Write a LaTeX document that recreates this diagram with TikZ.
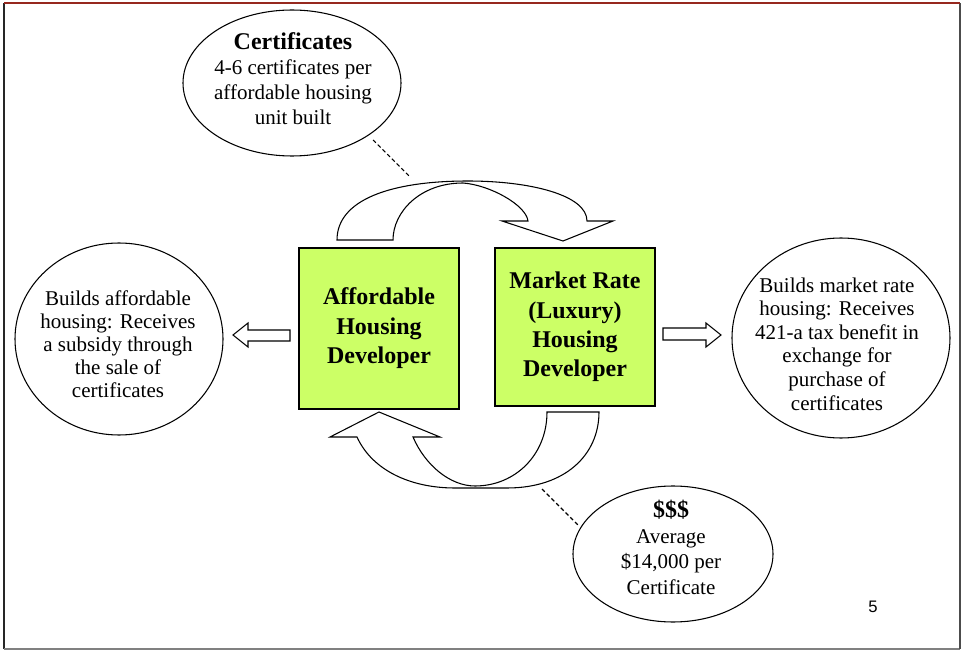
\documentclass[tikz,border=0pt]{standalone}
\usepackage{fontspec}
\setmainfont{Liberation Serif}
\newfontfamily\pagesans{Liberation Sans}
\usetikzlibrary{shapes.geometric}
\definecolor{boxgreen}{RGB}{204,255,102}
\definecolor{framered}{RGB}{150,40,30}
\begin{document}
\begin{tikzpicture}[x=0.75pt,y=-0.75pt,
  bubble/.style={draw=black, line width=0.8pt, ellipse, inner sep=0pt},
  bubbletext/.style={align=center, inner sep=0pt},
  devbox/.style={draw=black, line width=0.8pt, fill=boxgreen, inner sep=0pt, align=center,
    font=\fontsize{18}{22.1}\selectfont\bfseries},
  outline/.style={draw=black, line width=0.8pt, line join=miter, fill=white},
  dashline/.style={line width=0.8pt, dash pattern=on 3pt off 2pt}
]
\useasboundingbox (0,0) rectangle (965,656);

% frame
\draw[line width=0.9pt, black!85] (4,3) -- (4,649);
\draw[line width=1.4pt, black!50] (4,649) -- (960,649);
\draw[line width=0.9pt, black!70] (960,3) -- (960,649);
\draw[line width=1.1pt, framered] (4,3) -- (960,3);

% ellipses
\node[bubble, minimum width=163.5pt, minimum height=109.5pt] (cert) at (292,83) {};
\node[bubbletext, font=\fontsize{15.75}{18.75}\selectfont] (certtext) at (293,78.5)
  {{\fontsize{18}{18.75}\selectfont\bfseries Certificates}\\4-6 certificates per\\affordable housing\\unit built};

\node[bubble, minimum width=156pt, minimum height=144pt] (afford) at (119,339) {};
\node[bubbletext, font=\fontsize{15.75}{17.25}\selectfont] (affordtext) at (118,344)
  {Builds affordable\\housing: Receives\\a subsidy through\\the sale of\\certificates};

\node[bubble, minimum width=163.5pt, minimum height=150pt] (market) at (841,338) {};
\node[bubbletext, font=\fontsize{15.75}{17.7}\selectfont] (markettext) at (837,344)
  {Builds market rate\\housing: Receives\\421-a tax benefit in\\exchange for\\purchase of\\certificates};

\node[bubble, minimum width=150pt, minimum height=102pt] (money) at (673,554) {};
\node[bubbletext, font=\fontsize{15.75}{19.1}\selectfont] (moneytext) at (671,547.5)
  {{\fontsize{18}{19.1}\selectfont\bfseries \$\$\$}\\Average\\\$14,000 per\\Certificate};

% developer boxes
\node[devbox, minimum width=120pt, minimum height=120.75pt] (adev) at (379,328.5)
  {Affordable\\Housing\\Developer};
\node[devbox, minimum width=120pt, minimum height=118.5pt] (mdev) at (575,327)
  {Market Rate\\(Luxury)\\Housing\\Developer};

% curved arrows
\draw[outline] (337,240) -- (393,240) .. controls (393,212) and (420,183) .. (463,183)
  .. controls (490,185) and (526,205) .. (528,221) -- (502,221) -- (563,241) -- (613,221)
  -- (587,221) .. controls (587,195) and (530,181) .. (468,181)
  .. controls (390,181) and (337,200) .. (337,240) -- cycle;
\draw[outline] (547,412) -- (599,412) .. controls (599,455) and (565,488) .. (507,488)
  -- (455,488) .. controls (410,488) and (372,470) .. (357,437) -- (330,437) -- (379,412)
  -- (440,437) -- (413,437) .. controls (425,465) and (450,486) .. (475,486)
  .. controls (515,486) and (547,455) .. (547,412) -- cycle;

% block arrows
\draw[outline] (233,335) -- (248,323) -- (248,330) -- (290,330) -- (290,341) -- (248,341) -- (248,347) -- cycle;
\draw[outline] (721,335) -- (706,323) -- (706,328) -- (663,328) -- (663,340) -- (706,340) -- (706,347) -- cycle;

% dashed leaders
\coordinate (certlead) at (373,140);
\coordinate (toparrow) at (409,176);
\draw[dashline] (certlead) -- (toparrow);
\coordinate (botarrow) at (542,489);
\coordinate (moneylead) at (578,525);
\draw[dashline] (botarrow) -- (moneylead);

% page number
\node[font=\fontsize{12.5}{12.5}\selectfont\pagesans, inner sep=0pt] (pagenum) at (873,607) {5};
\end{tikzpicture}
\end{document}
